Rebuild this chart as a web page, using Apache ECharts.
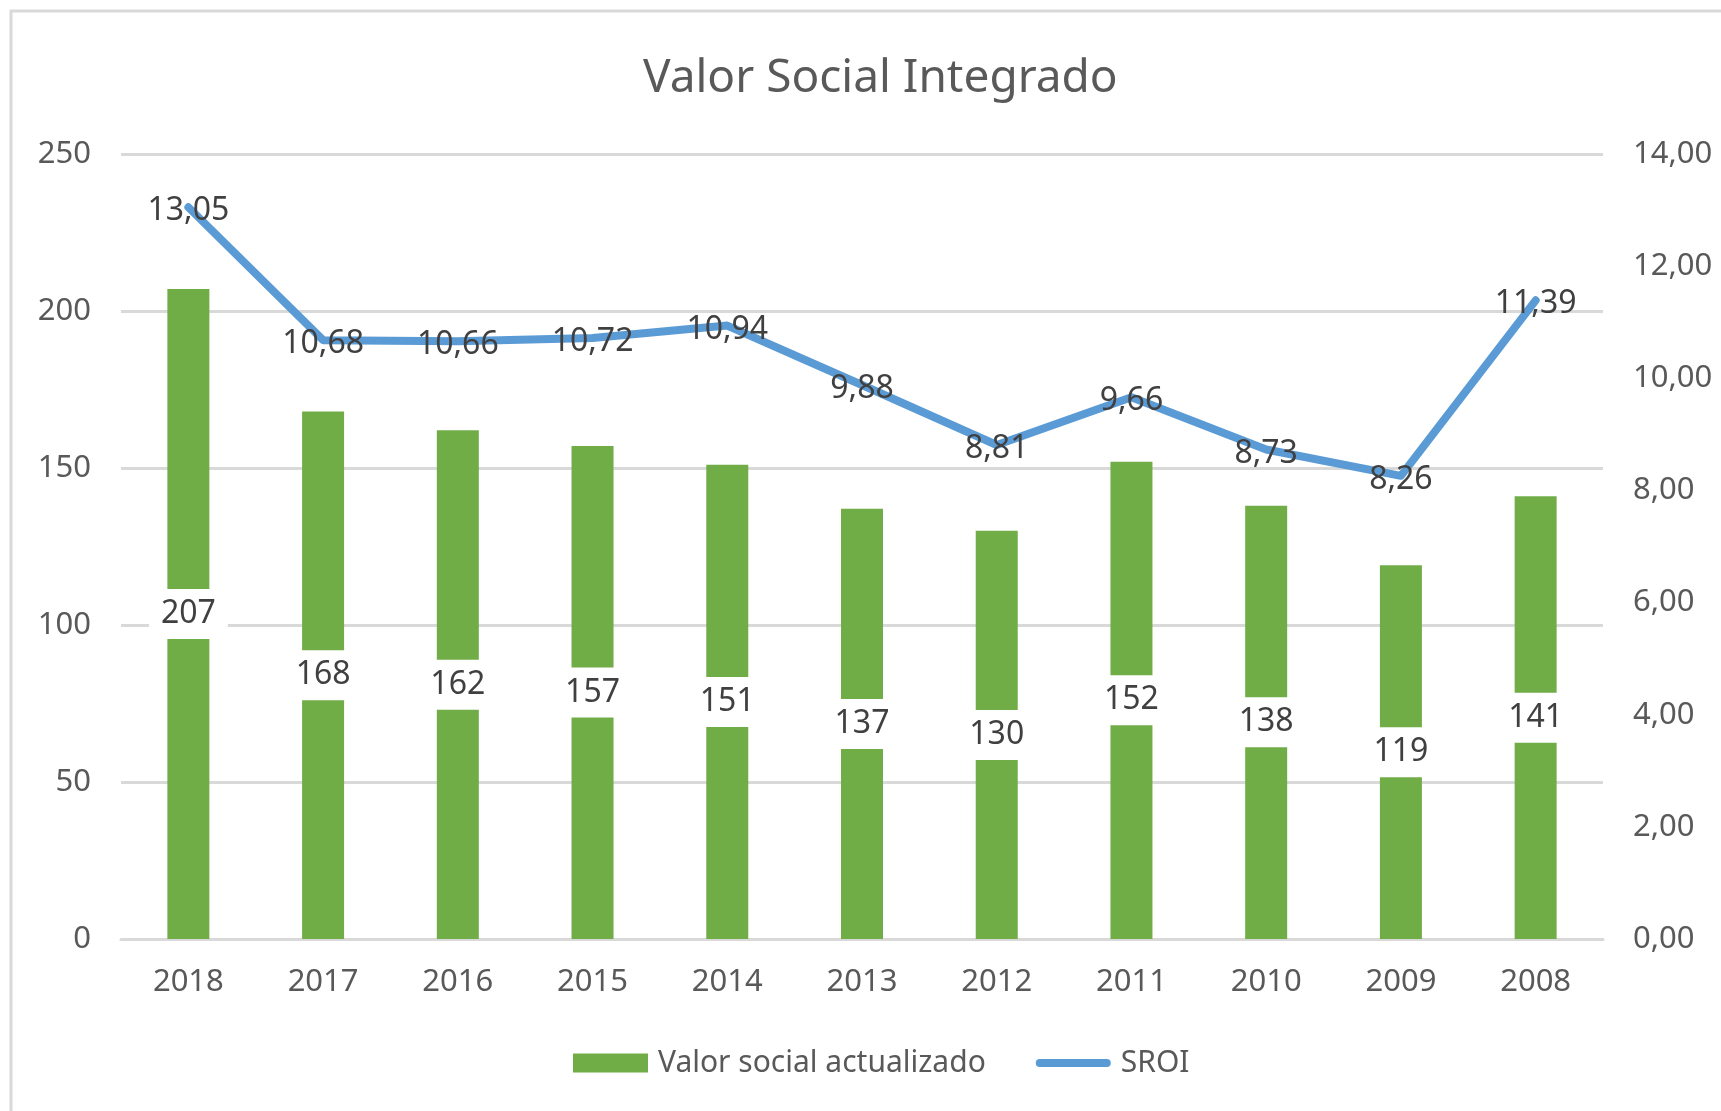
<!DOCTYPE html>
<html lang="es">
<head>
    <meta charset="UTF-8">
    <title>Valor Social Integrado</title>
    <script src="https://cdn.jsdelivr.net/npm/echarts@6.0.0/dist/echarts.min.js"></script>
    <style>
        body {
            margin: 0;
            background-color: #fff;
        }

        #chart {
            width: 1721px;
            height: 1111px;
        }
    </style>
</head>
<body>
    <div id="chart"></div>

    <script>
        // datos
        const years = ['2018', '2017', '2016', '2015', '2014', '2013', '2012', '2011', '2010', '2009', '2008'];
        const valorSocial = [207, 168, 162, 157, 151, 137, 130, 152, 138, 119, 141];
        const sroi = [13.05, 10.68, 10.66, 10.72, 10.94, 9.88, 8.81, 9.66, 8.73, 8.26, 11.39];

        const fontName = '"Noto Sans", "Open Sans", sans-serif';
        const comma = v => v.toFixed(2).replace('.', ',');

        const chart = echarts.init(document.getElementById('chart'));
        const option = {
            backgroundColor: '#fff',
            textStyle: { fontFamily: fontName },
            animation: false,
            title: {
                text: 'Valor Social Integrado',
                left: 638,
                top: 51,
                textStyle: {
                    fontFamily: fontName,
                    fontSize: 46,
                    fontWeight: 'normal',
                    color: '#595959'
                }
            },
            // marco gris del gráfico
            graphic: [{
                type: 'rect',
                shape: { x: 11, y: 11, width: 1800, height: 1200 },
                style: { fill: 'none', stroke: '#d9d9d9', lineWidth: 3 },
                silent: true
            }],
            legend: {
                left: 568,
                top: 1043,
                itemGap: 50,
                itemWidth: 75,
                itemHeight: 19,
                textStyle: {
                    fontSize: 30,
                    color: '#595959',
                    fontFamily: fontName,
                    padding: [0, 0, 0, 5]
                },
                data: [
                    { name: 'Valor social actualizado', icon: 'rect' },
                    { name: 'SROI', icon: 'path://M4,0 L71,0 A4,4 0 0 1 71,8 L4,8 A4,4 0 0 1 4,0 Z' }
                ]
            },
            grid: {
                left: 121,
                right: 118,
                top: 154,
                bottom: 172,
                containLabel: false
            },
            xAxis: {
                type: 'category',
                data: years,
                axisTick: { show: false },
                axisLine: { lineStyle: { color: '#d9d9d9', width: 3 } },
                axisLabel: { fontSize: 31, color: '#595959', margin: 28 }
            },
            yAxis: [
                {
                    type: 'value',
                    min: 0,
                    max: 250,
                    interval: 50,
                    axisLine: { show: false },
                    axisTick: { show: false },
                    splitLine: { lineStyle: { color: '#d9d9d9', width: 3 } },
                    axisLabel: { fontSize: 31, color: '#595959', margin: 30 }
                },
                {
                    type: 'value',
                    min: 0,
                    max: 14,
                    interval: 2,
                    axisLine: { show: false },
                    axisTick: { show: false },
                    splitLine: { show: false },
                    axisLabel: {
                        fontSize: 31,
                        color: '#595959',
                        margin: 30,
                        formatter: comma
                    }
                }
            ],
            series: [
                {
                    name: 'Valor social actualizado',
                    type: 'bar',
                    data: valorSocial,
                    barWidth: 42,
                    itemStyle: { color: '#70ad47' },
                    label: {
                        show: true,
                        position: 'inside',
                        fontSize: 32,
                        color: '#404040',
                        backgroundColor: '#fff',
                        padding: [9, 12]
                    },
                    z: 2
                },
                {
                    name: 'SROI',
                    type: 'line',
                    yAxisIndex: 1,
                    data: sroi,
                    symbol: 'circle',
                    symbolSize: 1,
                    showSymbol: true,
                    lineStyle: { color: '#5b9bd5', width: 8, cap: 'round', join: 'round' },
                    itemStyle: { color: '#5b9bd5' },
                    label: {
                        show: true,
                        position: 'inside',
                        offset: [0, 4],
                        fontSize: 32,
                        color: '#404040',
                        formatter: p => comma(p.value)
                    },
                    z: 3
                }
            ]
        };
        chart.setOption(option);
    </script>
</body>
</html>
